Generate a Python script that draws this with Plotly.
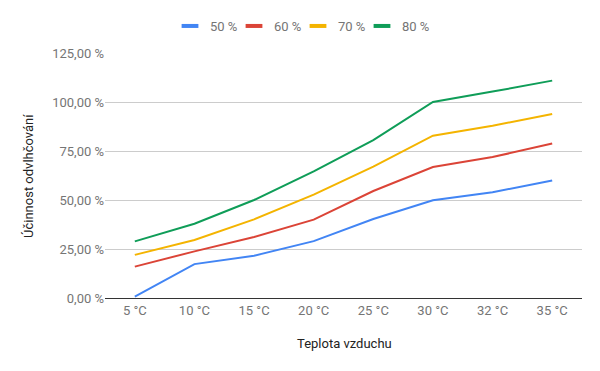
import plotly.graph_objects as go

categories = ["5 °C", "10 °C", "15 °C", "20 °C", "25 °C", "30 °C", "32 °C", "35 °C"]
series_names = ["50 %", "60 %", "70 %", "80 %"]
s50 = [0.7, 17.3, 21.6, 29.0, 40.3, 49.9, 54.0, 59.9]
s60 = [16.0, 23.8, 31.1, 40.0, 54.6, 66.8, 71.9, 78.8]
s70 = [22.0, 29.6, 40.1, 52.7, 67.0, 82.8, 87.9, 93.9]
s80 = [28.9, 37.9, 50.0, 64.6, 80.6, 100.0, 105.3, 110.9]
colors = ["#4285f4", "#db4437", "#f4b400", "#0f9d58"]
ytick_vals = [0, 25, 50, 75, 100, 125]
ytick_text = ["0,00 %", "25,00 %", "50,00 %", "75,00 %", "100,00 %", "125,00 %"]
x_title = "Teplota vzduchu"
y_title = "Účinnost odvlhčování"

fig = go.Figure()
for name, vals, c in zip(series_names, [s50, s60, s70, s80], colors):
    fig.add_trace(go.Scatter(x=categories, y=vals, name=name, mode="lines",
                             line=dict(color=c, width=2), showlegend=False))
# legend entries with small rectangle swatches
for name, c in zip(series_names, colors):
    fig.add_trace(go.Scatter(x=[None], y=[None], name=name, mode="markers",
                             marker=dict(symbol="line-ew", size=12, color=c,
                                         line=dict(color=c, width=4)),
                             showlegend=True))
# invisible spacer entry so the last legend label is not clipped
fig.add_trace(go.Scatter(x=[None], y=[None], name=" ", mode="markers",
                         marker=dict(symbol="line-ew", size=1, color="rgba(0,0,0,0)",
                                     line=dict(color="rgba(0,0,0,0)", width=0)),
                         showlegend=True, hoverinfo="skip"))

L, R, T, B = 105, 18, 53, 73
PW, PH = 600 - L - R, 371 - T - B

fig.update_layout(
    width=600, height=371,
    margin=dict(l=L, r=R, t=T, b=B, autoexpand=False),
    paper_bgcolor="white", plot_bgcolor="white",
    font=dict(family="Roboto", size=13, color="#757575"),
    showlegend=True,
    legend=dict(orientation="h", xref="container", x=(184 - 14) / 600, xanchor="left",
                y=1 + (T - 26) / PH, yanchor="middle",
                font=dict(size=13, color="#757575"),
                itemwidth=30, tracegroupgap=0,
                entrywidth=19, entrywidthmode="pixels"),
    xaxis=dict(type="category", range=[-0.5, 7.5], showgrid=False, automargin=False,
               showline=True, linecolor="#333333", linewidth=1,
               ticks="", tickfont=dict(size=13, color="#757575")),
    yaxis=dict(range=[0, 125], tickvals=ytick_vals, ticktext=ytick_text, automargin=False,
               showgrid=True, gridcolor="#cccccc", gridwidth=1,
               zeroline=True, zerolinecolor="#333333", zerolinewidth=1,
               ticks="", tickfont=dict(size=13, color="#757575")),
    annotations=[
        dict(text=x_title, xref="paper", yref="paper", x=(344 - L) / PW, y=-(343 - 298) / PH,
             showarrow=False, xanchor="center", yanchor="middle",
             font=dict(size=13, color="#222222")),
        dict(text=y_title, xref="paper", yref="paper", x=(28 - L) / PW, y=(298 - 176) / PH,
             showarrow=False, xanchor="center", yanchor="middle", textangle=-90,
             font=dict(size=13, color="#222222")),
    ],
)
fig.write_html("out.html", config={"displayModeBar": False},
               post_script="document.body.style.margin='0';")
